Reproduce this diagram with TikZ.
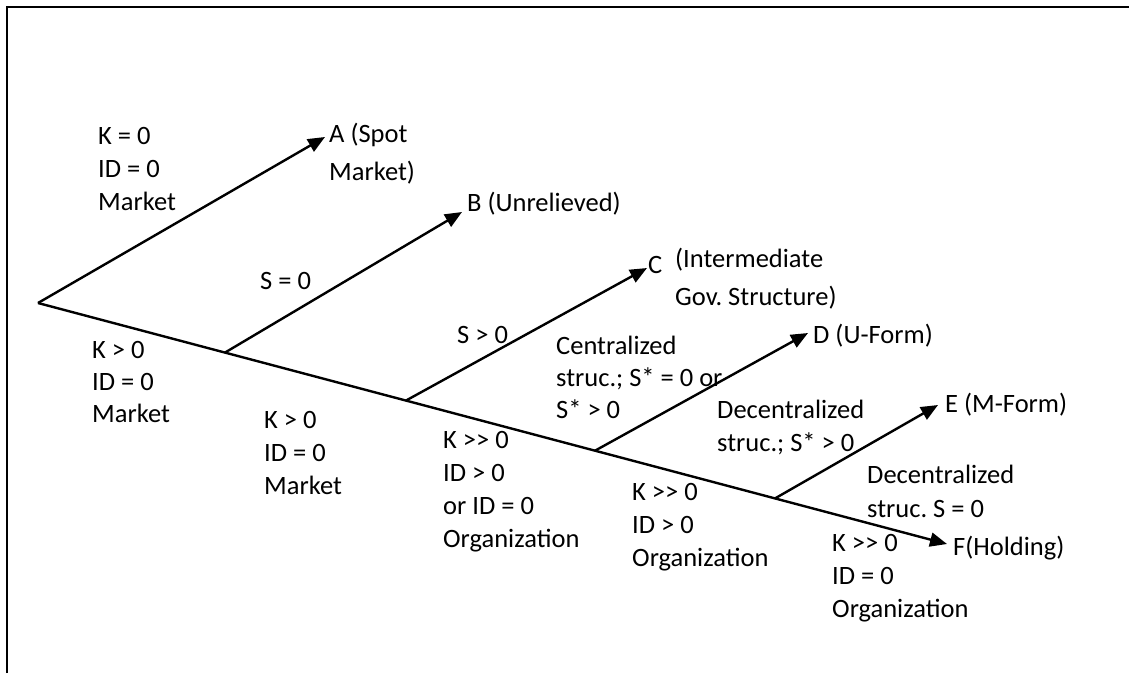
\documentclass[tikz,border=0pt]{standalone}
\usepackage{fontspec}
\newfontfamily\labfont{Carlito}
\usetikzlibrary{arrows.meta,calc}
\begin{document}
\begin{tikzpicture}[x=1pt,y=-1pt,
  lbl/.style={anchor=base west,inner sep=0pt,align=left,font=\labfont\frenchspacing\fontsize{26.5}{33}\selectfont},
  wide/.style={font=\labfont\frenchspacing\fontsize{26.5}{38}\selectfont},
  tight/.style={font=\labfont\frenchspacing\fontsize{26.5}{32}\selectfont},
  loose/.style={font=\labfont\frenchspacing\fontsize{26.5}{34}\selectfont},
  branch/.style={line width=2.4pt,-{Triangle[length=17pt,width=14pt]}},
  frame/.style={line width=2pt}]
\useasboundingbox (0,0) rectangle (1129,673);
\draw[frame] (7,673) -- (7,7) -- (1129,7);
% skeleton
\coordinate (root) at (38,303);
\coordinate (tF) at (947,544);
\coordinate (j1) at ($(root)!0.2057!(tF)$);
\coordinate (j2) at ($(root)!0.4048!(tF)$);
\coordinate (j3) at ($(root)!0.6128!(tF)$);
\coordinate (j4) at ($(root)!0.8108!(tF)$);
\coordinate (tA) at (325,137);
\coordinate (tB) at (462,212);
\coordinate (tC) at (647,268);
\coordinate (tD) at (808,333);
\coordinate (tE) at (938,405);
\draw[branch] (root) -- (tA);
\draw[branch] (root) -- (tF);
\draw[branch] (j1) -- (tB);
\draw[branch] (j2) -- (tC);
\draw[branch] (j3) -- (tD);
\draw[branch] (j4) -- (tE);
% end labels (anchor = baseline of the last line)
\node[lbl,wide] (lA) at (329,180) {A (Spot\\Market)};
\node[lbl] (lB) at (467,211) {B (Unrelieved)};
\node[lbl] (lC) at (648,273) {C};
\node[lbl,wide] (lC2) at (675,305) {(Intermediate\\Gov. Structure)};
\node[lbl] (lD) at (813,343) {D (U-Form)};
\node[lbl] (lE) at (945,412) {E (M-Form)};
\node[lbl] (lF) at (953,555) {F(Holding)};
% branch labels
\node[lbl] (k0) at (98,210) {K = 0\\ID = 0\\Market};
\node[lbl] (s0) at (260,289) {S = 0};
\node[lbl] (s1) at (457,343) {S > 0};
\node[lbl,tight] (cen) at (556,418) {Centralized\\struc.; S* = 0 or\\S* > 0};
\node[lbl] (dec1) at (717,451) {Decentralized\\struc.; S* > 0};
\node[lbl,loose] (dec2) at (867,517) {Decentralized\\struc. S = 0};
\node[lbl,tight] (g1) at (92,422) {K > 0\\ID = 0\\Market};
\node[lbl] (g2) at (264,494) {K > 0\\ID = 0\\Market};
\node[lbl] (g3) at (443,547) {K >> 0\\ID > 0\\or ID = 0\\Organization};
\node[lbl] (g4) at (632,566) {K >> 0\\ID > 0\\Organization};
\node[lbl] (g5) at (832,617) {K >> 0\\ID = 0\\Organization};
\end{tikzpicture}
\end{document}
